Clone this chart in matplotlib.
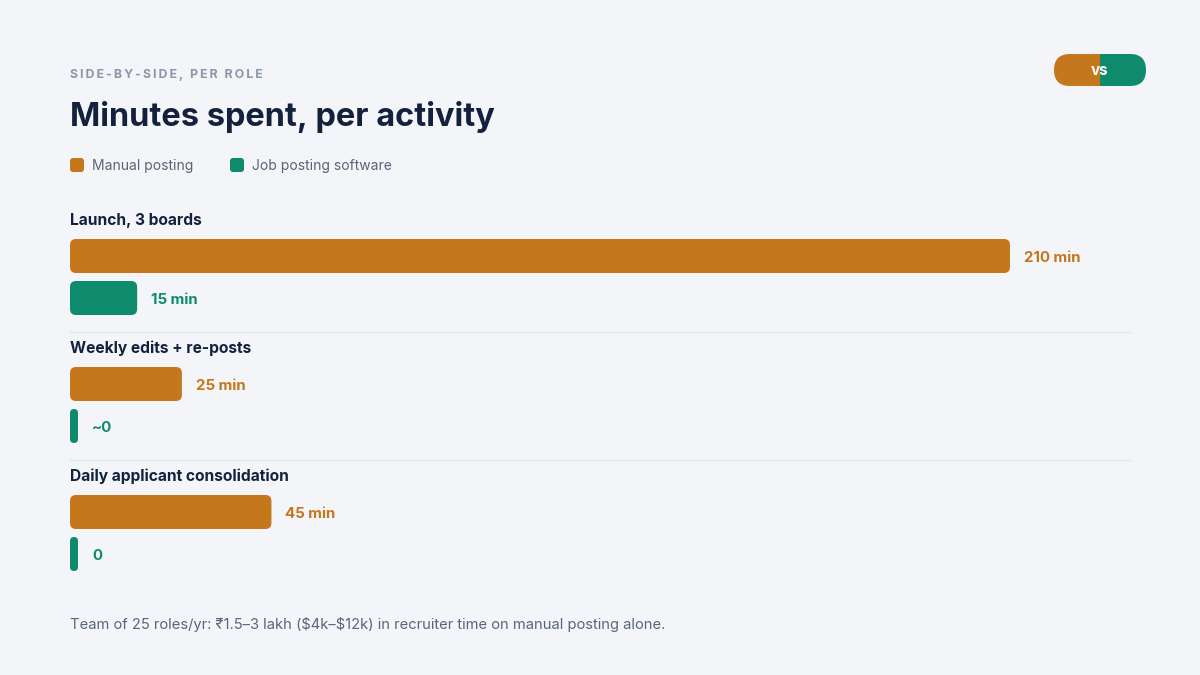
import matplotlib
matplotlib.use("Agg")
import matplotlib.pyplot as plt
from matplotlib.patches import FancyBboxPatch, Rectangle

plt.rcParams['font.family'] = ['Inter', 'DejaVu Sans']

# --- data ---
activities = ["Launch, 3 boards", "Weekly edits + re-posts", "Daily applicant consolidation"]
manual_min = [210, 25, 45]
software_min = [15, 0, 0]
manual_labels = ["210 min", "25 min", "45 min"]
software_labels = ["15 min", "~0", "0"]
series_names = ["Manual posting", "Job posting software"]

# --- style ---
BG = "#F3F5F9"
ORANGE = "#C4771D"
GREEN = "#0E8A6C"
NAVY = "#14213D"
MUTED = "#5B6579"
EYEBROW = "#8B96A8"
RULE = "#E0E4EB"

W, H = 1200, 675
LEFT = 70          # px, where bars start
TRACK = 940        # px, length of the longest bar
BAR_H = 34
MIN_BAR = 8        # px, so zero values still show a sliver

fig = plt.figure(figsize=(12, 6.75), dpi=100, facecolor=BG)

# pixel overlay for headers, legend and badge
deco = fig.add_axes([0, 0, 1, 1])
deco.set_xlim(0, W)
deco.set_ylim(H, 0)
deco.axis("off")

# bar axes: x in minutes, y in pixels
ax = fig.add_axes([0, 0, 1, 1])
ppm = TRACK / max(manual_min)
ax.set_xlim(-LEFT / ppm, (W - LEFT) / ppm)
ax.set_ylim(H, 0)
ax.axis("off")
ax.patch.set_alpha(0)


def rounded_bar(value, top, color):
    w = max(value, MIN_BAR / ppm)
    r_px = min(6, w * ppm / 2)
    ax.add_patch(FancyBboxPatch((0, top), w, BAR_H,
                                boxstyle=f"round,pad=0,rounding_size={r_px / ppm}",
                                mutation_aspect=ppm, fc=color, ec="none"))
    return w


# headers (thin spaces give the eyebrow its tracking)
eyebrow = "\u2009".join("SIDE-BY-SIDE, PER ROLE")
deco.text(LEFT, 78, eyebrow, fontsize=8.9, fontweight="bold",
          color=EYEBROW, va="baseline")
deco.text(LEFT, 126, "Minutes spent, per activity", fontsize=23.4, fontweight="bold",
          color=NAVY, va="baseline")

# legend
for x0, name, col in zip([70, 230], series_names, [ORANGE, GREEN]):
    deco.add_patch(FancyBboxPatch((x0, 158), 14, 14,
                                  boxstyle="round,pad=0,rounding_size=3",
                                  fc=col, ec="none"))
    deco.text(x0 + 22, 170, name, fontsize=10, color=MUTED, va="baseline")

# vs badge
pill = FancyBboxPatch((1054, 54), 92, 32, boxstyle="round,pad=0,rounding_size=16",
                      fc="none", ec="none")
deco.add_patch(pill)
for x0, col in [(1054, ORANGE), (1100, GREEN)]:
    half = Rectangle((x0, 54), 46, 32, fc=col, ec="none")
    deco.add_patch(half)
    half.set_clip_path(pill)
deco.text(1100, 75, "vs", fontsize=11, fontweight="bold", color="white",
          ha="center", va="baseline")

# groups
for i, name in enumerate(activities):
    base = 225 + i * 128
    ax.text(0, base, name, fontsize=11.2, fontweight="bold", color=NAVY, va="baseline")

    rows = [(manual_min[i], manual_labels[i], ORANGE, base + 14),
            (software_min[i], software_labels[i], GREEN, base + 56)]
    for val, lab, col, top in rows:
        w = rounded_bar(val, top, col)
        ax.text(w + 14 / ppm, top + BAR_H / 2 + 6, lab, fontsize=10.8,
                fontweight="bold", color=col, va="baseline")

    if i < len(activities) - 1:
        deco.plot([LEFT, 1130], [base + 107, base + 107], color=RULE, lw=1)

# footer
deco.text(LEFT, 629,
          "Team of 25 roles/yr: \u20b91.5\u20133 lakh ($4k\u2013$12k) in recruiter time on manual posting alone.",
          fontsize=10.6, color=MUTED, va="baseline", parse_math=False)

fig.savefig("out.png", dpi=100, facecolor=BG)
